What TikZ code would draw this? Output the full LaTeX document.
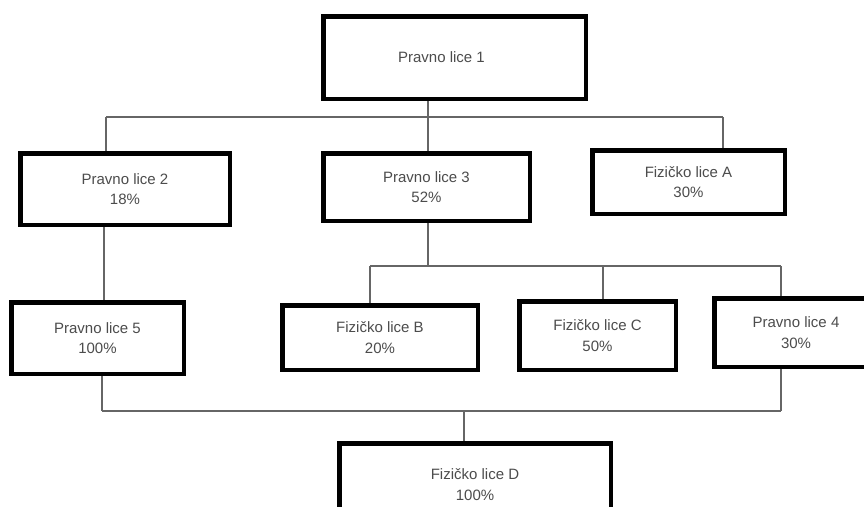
\documentclass[tikz,border=0pt]{standalone}
\usepackage{fontspec}
\setmainfont{Liberation Sans}
\usepackage{tikz}
\usetikzlibrary{calc}
\tikzstyle{entity} = [rectangle, line width=4.5pt, draw=black, fill=white, text=black!70, align=center, font=\fontsize{15}{20.5}\selectfont]
\tikzstyle{conn} = [line width=1.1pt, draw=black!60]

\begin{document}
\begin{tikzpicture}[x=1pt,y=-1pt]
\useasboundingbox (0,0) rectangle (864,506);
\clip (0,0) rectangle (864,506);
\fill[white] (0,0) rectangle (864,506);

% junctions
\coordinate(j1) at (428,117);
\coordinate(j1l) at (106,117);
\coordinate(j1r) at (723,117);
\coordinate(j2) at (428,266);
\coordinate(j2l) at (370,266);
\coordinate(j2m) at (603,266);
\coordinate(j2r) at (781,266);
\coordinate(j3) at (464,411);
\coordinate(j3l) at (102,411);
\coordinate(j3r) at (781,411);

\draw[conn] (j1l) -- (j1r);
\draw[conn] (j2l) -- (j2r);
\draw[conn] (j3l) -- (j3r);

\node(pl1)[entity,minimum width=262.5pt,minimum height=82.5pt] at (454.5,57.5) {\hspace*{-26pt}Pravno lice 1};
\node(pl2)[entity,minimum width=209.5pt,minimum height=71.5pt] at (125,189) {Pravno lice 2\\18\%};
\node(pl3)[entity,minimum width=206.5pt,minimum height=67.5pt] at (426.5,187) {Pravno lice 3\\52\%};
\node(flA)[entity,minimum width=192.5pt,minimum height=63.5pt] at (688.5,182) {Fizičko lice A\\30\%};
\node(pl5)[entity,minimum width=172.5pt,minimum height=71.5pt] at (97.5,338) {Pravno lice 5\\100\%};
\node(flB)[entity,minimum width=195.5pt,minimum height=64.5pt] at (380,337.5) {Fizičko lice B\\20\%};
\node(flC)[entity,minimum width=156.5pt,minimum height=68.5pt] at (597.5,335.5) {Fizičko lice C\\50\%};
\node(pl4)[entity,minimum width=163.5pt,minimum height=68.5pt] at (796,332.5) {Pravno lice 4\\30\%};
\node(flD)[entity,minimum width=271.5pt,minimum height=82.5pt] at (475,484.5) {Fizičko lice D\\100\%};

\draw[conn] (pl1.south -| j1) -- (j1);
\draw[conn] (j1l) -- (pl2.north -| j1l);
\draw[conn] (j1) -- (pl3.north -| j1);
\draw[conn] (j1r) -- (flA.north -| j1r);
\draw[conn] (pl3.south -| j2) -- (j2);
\draw[conn] (j2l) -- (flB.north -| j2l);
\draw[conn] (j2m) -- (flC.north -| j2m);
\draw[conn] (j2r) -- (pl4.north -| j2r);
\draw[conn] (pl2.south -| 104,0) -- (pl5.north -| 104,0);
\draw[conn] (pl5.south -| j3l) -- (j3l);
\draw[conn] (pl4.south -| j3r) -- (j3r);
\draw[conn] (j3) -- (flD.north -| j3);

\end{tikzpicture}
\end{document}
